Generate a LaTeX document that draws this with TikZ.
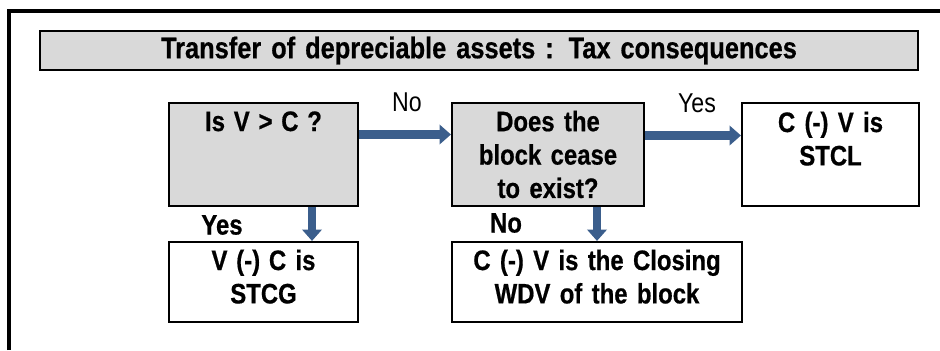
\documentclass[tikz,border=0pt]{standalone}
\usepackage{fontspec}
\setmainfont{Liberation Sans}[FakeStretch=0.85, BoldFeatures={FakeBold=0.6}]
\usetikzlibrary{arrows.meta}
\definecolor{boxgray}{RGB}{217,217,217}
\definecolor{arrowblue}{RGB}{59,94,140}
\tikzset{
  qbox/.style={draw, line width=1.2pt, fill=boxgray, inner sep=0pt, align=center, font=\bfseries\fontsize{16}{19}\selectfont},
  abox/.style={draw, line width=1.2pt, fill=white, inner sep=0pt, align=center, font=\bfseries\fontsize{16}{19}\selectfont},
  flow/.style={arrowblue, line width=5pt, -{Triangle[length=6.5pt,width=11pt]}},
  plainlab/.style={inner sep=0pt, font=\fontsize{15.5}{18}\selectfont},
  boldlab/.style={inner sep=0pt, font=\bfseries\fontsize{16}{19}\selectfont},
}

\begin{document}
\begin{tikzpicture}
            \useasboundingbox (0,0) rectangle (18.8,7);
            \draw[line width=1.9pt] (0.18,0) -- (0.18,6.78) -- (18.8,6.78);

            \node[qbox, text width=17.56cm, minimum height=0.78cm, font=\bfseries\fontsize{17}{20}\selectfont] (title) at (9.58,5.99) {Transfer of depreciable assets : Tax consequences};

            \node[qbox, text width=3.78cm, text height=0.56cm, text depth=1.5cm] (q1) at (5.27,3.91) {Is\hspace{5pt}V\hspace{5pt}>\hspace{5pt}C\hspace{5pt}?};
            \node[qbox, text width=3.84cm, minimum height=2.06cm] (q2) at (10.96,3.91) {Does the\\block cease\\to exist?};
            \node[abox, text width=3.54cm, text height=0.58cm, text depth=1.48cm] (a3) at (16.61,3.91) {C (-) V is\\STCL};
            \node[abox, text width=3.78cm, text height=0.56cm, text depth=1.04cm] (a1) at (5.27,1.36) {V\hspace{5pt}(-)\hspace{5pt}C is\\STCG};
            \node[abox, text width=5.8cm, text height=0.56cm, text depth=1.04cm] (a2) at (11.94,1.36) {C (-) V is the Closing\\WDV of the block};

            \draw[flow] ([yshift=0.4cm]q1.east) -- ([yshift=0.4cm]q2.west);
            \draw[flow] ([yshift=0.38cm]q2.east) -- ([yshift=0.38cm]a3.west);
            \draw[flow] ([xshift=0.97cm]q1.south) -- ([xshift=0.97cm]a1.north);
            \draw[flow] (q2.south -| a2.north) -- (a2.north);

            \node[plainlab] (no1) at (8.14,4.96) {No};
            \node[plainlab] (yes1) at (13.94,4.94) {Yes};
            \node[boldlab] (yes2) at (4.44,2.5) {Yes};
            \node[boldlab] (no2) at (10.12,2.54) {No};
        \end{tikzpicture}
\end{document}
